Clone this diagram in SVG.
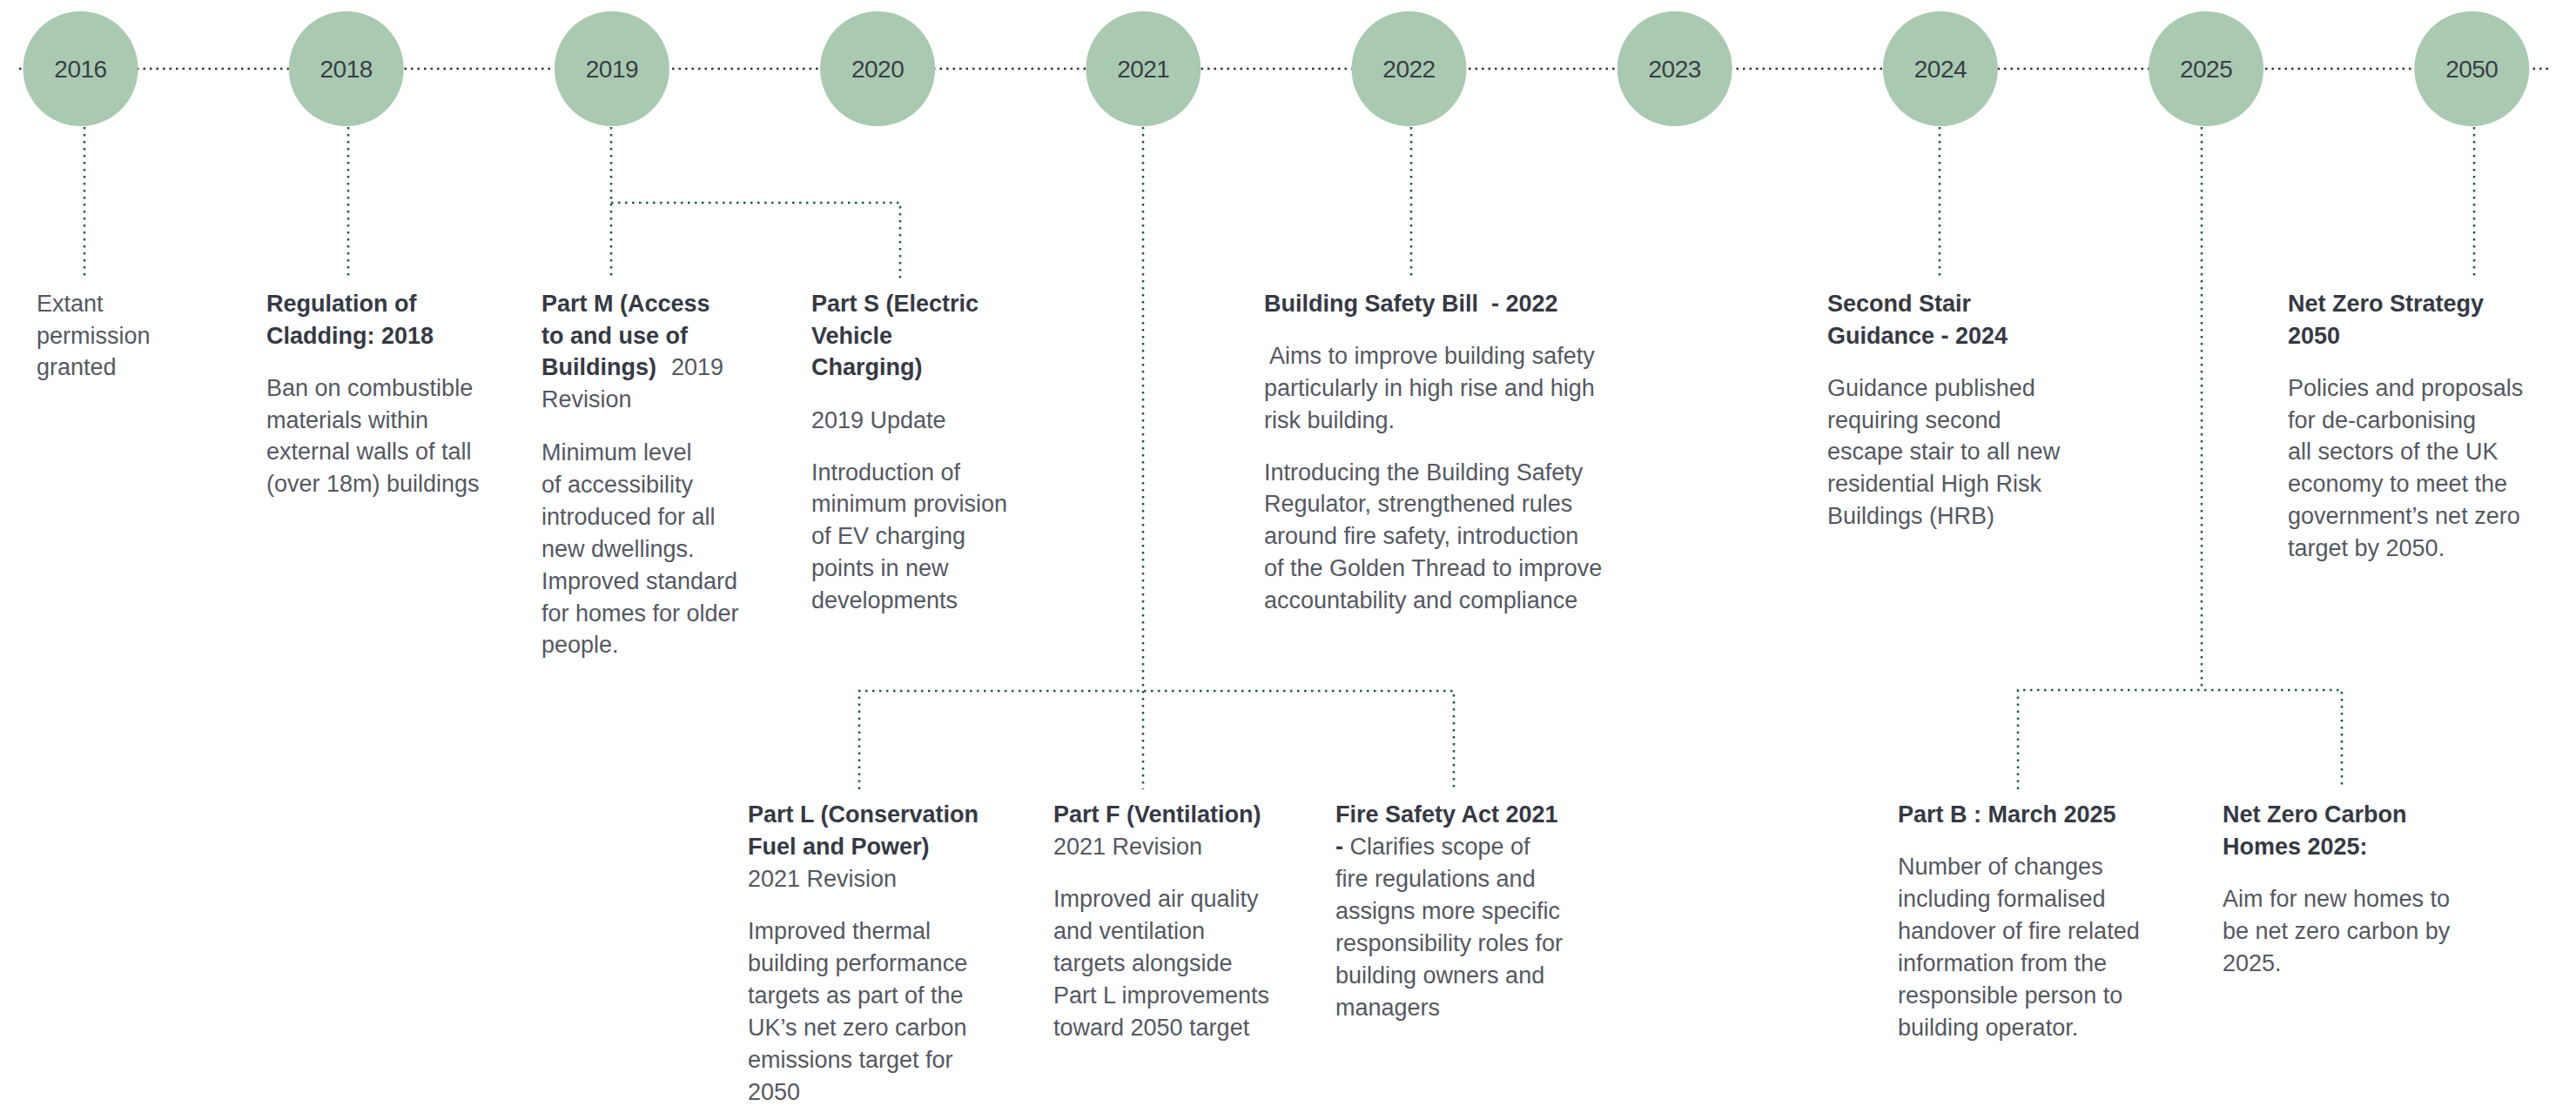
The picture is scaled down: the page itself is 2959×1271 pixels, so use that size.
<svg xmlns="http://www.w3.org/2000/svg" width="2959" height="1271" viewBox="0 0 2959 1271">
<style>
.bg{fill:#ffffff}
.yc{fill:#a9c9b0}
.yr{font-family:"Liberation Sans",Arial,sans-serif;font-size:28px;fill:#3a3d48;text-anchor:middle;letter-spacing:-0.5px}
.tl{stroke:#2e3436;stroke-width:2.5;fill:none;stroke-dasharray:2.5 5}
.cn{stroke:#1d5a4a;stroke-width:2.5;fill:none;stroke-dasharray:2.5 5.5}
.t{font-family:"Liberation Sans",Arial,sans-serif;font-size:27px;font-weight:bold;fill:#363944}
.b{font-family:"Liberation Sans",Arial,sans-serif;font-size:27px;fill:#555862}
.n{font-weight:normal;fill:#555862}
</style>
<rect class="bg" x="0" y="0" width="2959" height="1271"/>
<g id="connectors">
<path class="tl" d="M22 79 H2928"/>
<path class="cn" d="M97 146 V320"/>
<path class="cn" d="M400 146 V320"/>
<path class="cn" d="M702 146 V320"/>
<path class="cn" d="M702 233 H1034 V320"/>
<path class="cn" d="M1313 146 V907"/>
<path class="cn" d="M987 907 V794 H1670 V907"/>
<path class="cn" d="M1621 146 V318"/>
<path class="cn" d="M2228 146 V319"/>
<path class="cn" d="M2529 146 V793"/>
<path class="cn" d="M2318 907 V793 H2690 V907"/>
<path class="cn" d="M2842 146 V318"/>
</g>
<g id="y2016"><circle class="yc" cx="92.5" cy="79" r="66"/><text class="yr" x="92.5" y="89">2016</text></g>
<g id="y2018"><circle class="yc" cx="397.7" cy="79" r="66"/><text class="yr" x="397.7" y="89">2018</text></g>
<g id="y2019"><circle class="yc" cx="702.9" cy="79" r="66"/><text class="yr" x="702.9" y="89">2019</text></g>
<g id="y2020"><circle class="yc" cx="1008.1" cy="79" r="66"/><text class="yr" x="1008.1" y="89">2020</text></g>
<g id="y2021"><circle class="yc" cx="1313.3" cy="79" r="66"/><text class="yr" x="1313.3" y="89">2021</text></g>
<g id="y2022"><circle class="yc" cx="1618.5" cy="79" r="66"/><text class="yr" x="1618.5" y="89">2022</text></g>
<g id="y2023"><circle class="yc" cx="1923.7" cy="79" r="66"/><text class="yr" x="1923.7" y="89">2023</text></g>
<g id="y2024"><circle class="yc" cx="2228.9" cy="79" r="66"/><text class="yr" x="2228.9" y="89">2024</text></g>
<g id="y2025"><circle class="yc" cx="2534.1" cy="79" r="66"/><text class="yr" x="2534.1" y="89">2025</text></g>
<g id="y2050"><circle class="yc" cx="2839.3" cy="79" r="66"/><text class="yr" x="2839.3" y="89">2050</text></g>

<g id="extant">
<text class="b" x="42" y="358">Extant</text>
<text class="b" x="42" y="394.7">permission</text>
<text class="b" x="42" y="431.4">granted</text>
</g>
<g id="cladding">
<text class="t" x="306" y="358">Regulation of</text>
<text class="t" x="306" y="394.7">Cladding: 2018</text>
<text class="b" x="306" y="455">Ban on combustible</text>
<text class="b" x="306" y="491.7">materials within</text>
<text class="b" x="306" y="528.4">external walls of tall</text>
<text class="b" x="306" y="565.1">(over 18m) buildings</text>
</g>
<g id="partM">
<text class="t" x="622" y="358">Part M (Access</text>
<text class="t" x="622" y="394.7">to and use of</text>
<text class="t" x="622" y="431.4">Buildings)<tspan class="n" x="771">2019</tspan></text>
<text class="b" x="622" y="468.1">Revision</text>
<text class="b" x="622" y="529">Minimum level</text>
<text class="b" x="622" y="565.9">of accessibility</text>
<text class="b" x="622" y="602.8">introduced for all</text>
<text class="b" x="622" y="639.7">new dwellings.</text>
<text class="b" x="622" y="676.6">Improved standard</text>
<text class="b" x="622" y="713.5">for homes for older</text>
<text class="b" x="622" y="750.4">people.</text>
</g>
<g id="partS">
<text class="t" x="932" y="358">Part S (Electric</text>
<text class="t" x="932" y="394.7">Vehicle</text>
<text class="t" x="932" y="431.4">Charging)</text>
<text class="b" x="932" y="491.7">2019 Update</text>
<text class="b" x="932" y="551.7">Introduction of</text>
<text class="b" x="932" y="588.4">minimum provision</text>
<text class="b" x="932" y="625.1">of EV charging</text>
<text class="b" x="932" y="661.8">points in new</text>
<text class="b" x="932" y="698.5">developments</text>
</g>
<g id="safetyBill">
<text class="t" x="1452" y="358" xml:space="preserve">Building Safety Bill  - 2022</text>
<text class="b" x="1452" y="418.3" xml:space="preserve"> Aims to improve building safety</text>
<text class="b" x="1452" y="455">particularly in high rise and high</text>
<text class="b" x="1452" y="491.7">risk building.</text>
<text class="b" x="1452" y="551.7">Introducing the Building Safety</text>
<text class="b" x="1452" y="588.4">Regulator, strengthened rules</text>
<text class="b" x="1452" y="625.1">around fire safety, introduction</text>
<text class="b" x="1452" y="661.8">of the Golden Thread to improve</text>
<text class="b" x="1452" y="698.5">accountability and compliance</text>
</g>
<g id="secondStair">
<text class="t" x="2099" y="358">Second Stair</text>
<text class="t" x="2099" y="394.7">Guidance - 2024</text>
<text class="b" x="2099" y="455">Guidance published</text>
<text class="b" x="2099" y="491.7">requiring second</text>
<text class="b" x="2099" y="528.4">escape stair to all new</text>
<text class="b" x="2099" y="565.1">residential High Risk</text>
<text class="b" x="2099" y="601.8">Buildings (HRB)</text>
</g>
<g id="netZeroStrategy">
<text class="t" x="2628" y="358">Net Zero Strategy</text>
<text class="t" x="2628" y="394.7">2050</text>
<text class="b" x="2628" y="455">Policies and proposals</text>
<text class="b" x="2628" y="491.7">for de-carbonising</text>
<text class="b" x="2628" y="528.4">all sectors of the UK</text>
<text class="b" x="2628" y="565.1">economy to meet the</text>
<text class="b" x="2628" y="601.8">government’s net zero</text>
<text class="b" x="2628" y="638.5">target by 2050.</text>
</g>
<g id="partL">
<text class="t" x="859" y="945">Part L (Conservation</text>
<text class="t" x="859" y="982">Fuel and Power)</text>
<text class="b" x="859" y="1019">2021 Revision</text>
<text class="b" x="859" y="1079">Improved thermal</text>
<text class="b" x="859" y="1116">building performance</text>
<text class="b" x="859" y="1153">targets as part of the</text>
<text class="b" x="859" y="1190">UK’s net zero carbon</text>
<text class="b" x="859" y="1227">emissions target for</text>
<text class="b" x="859" y="1264">2050</text>
</g>
<g id="partF">
<text class="t" x="1210" y="945">Part F (Ventilation)</text>
<text class="b" x="1210" y="982">2021 Revision</text>
<text class="b" x="1210" y="1042">Improved air quality</text>
<text class="b" x="1210" y="1079">and ventilation</text>
<text class="b" x="1210" y="1116">targets alongside</text>
<text class="b" x="1210" y="1153">Part L improvements</text>
<text class="b" x="1210" y="1190">toward 2050 target</text>
</g>
<g id="fireSafetyAct">
<text class="t" x="1534" y="945">Fire Safety Act 2021</text>
<text class="t" x="1534" y="982">-<tspan class="n"> Clarifies scope of</tspan></text>
<text class="b" x="1534" y="1019">fire regulations and</text>
<text class="b" x="1534" y="1056">assigns more specific</text>
<text class="b" x="1534" y="1093">responsibility roles for</text>
<text class="b" x="1534" y="1130">building owners and</text>
<text class="b" x="1534" y="1167">managers</text>
</g>
<g id="partB">
<text class="t" x="2180" y="945">Part B : March 2025</text>
<text class="b" x="2180" y="1005">Number of changes</text>
<text class="b" x="2180" y="1042">including formalised</text>
<text class="b" x="2180" y="1079">handover of fire related</text>
<text class="b" x="2180" y="1116">information from the</text>
<text class="b" x="2180" y="1153">responsible person to</text>
<text class="b" x="2180" y="1190">building operator.</text>
</g>
<g id="netZeroHomes">
<text class="t" x="2553" y="945">Net Zero Carbon</text>
<text class="t" x="2553" y="982">Homes 2025:</text>
<text class="b" x="2553" y="1042">Aim for new homes to</text>
<text class="b" x="2553" y="1079">be net zero carbon by</text>
<text class="b" x="2553" y="1116">2025.</text>
</g>
</svg>
